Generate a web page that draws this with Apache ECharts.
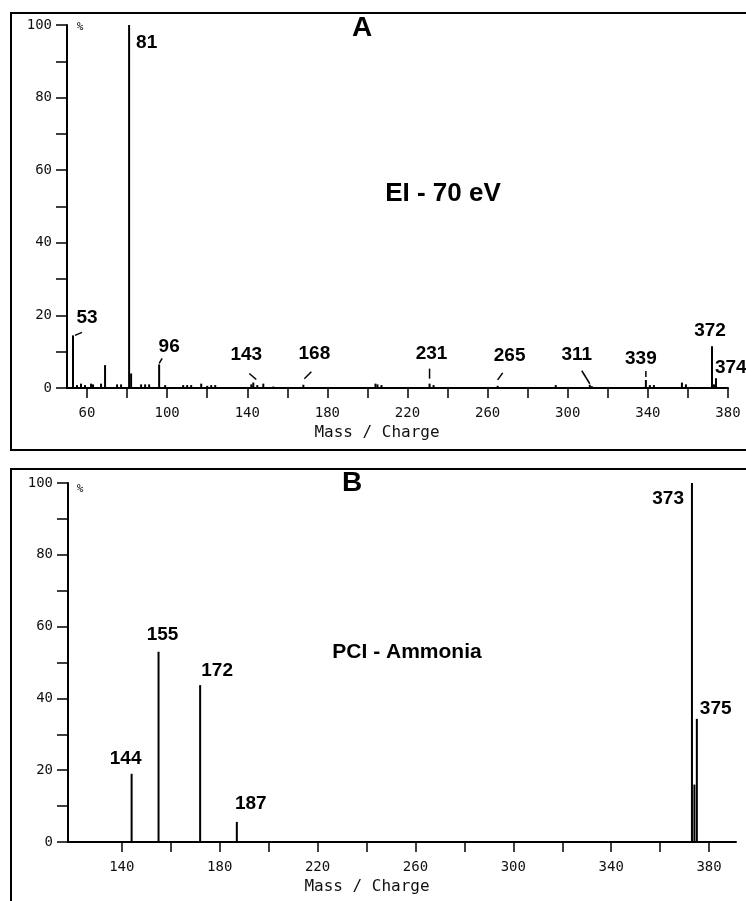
<!DOCTYPE html>
<html>
<head>
<meta charset="utf-8">
<script src="https://cdn.jsdelivr.net/npm/echarts@6/dist/echarts.min.js"></script>
<style>
  html, body { margin: 0; padding: 0; background: #fff; }
  #chart { width: 746px; height: 901px; }
</style>
</head>
<body>
<div id="chart"></div>
<script>
// EI - 70 eV spectrum (m/z, relative intensity %)
const eiMz = [53, 55, 57, 59, 62, 63, 67, 69, 75, 77, 81, 82, 87, 89, 91, 96, 99,
  108, 110, 112, 117, 120, 122, 124, 142, 143, 145, 148, 153, 168,
  204, 205, 207, 231, 233, 265, 294, 311, 312, 339, 341, 343, 357, 359, 372, 373, 374];
const eiInt = [14.5, 0.8, 1.2, 0.8, 1.2, 1.0, 1.2, 6.3, 1.0, 1.0, 100, 4.0, 1.0, 1.0, 1.0, 6.5, 0.8,
  0.8, 0.8, 0.8, 1.2, 0.6, 0.8, 0.8, 1.0, 1.5, 0.8, 1.2, 0.4, 0.9,
  1.2, 1.0, 0.8, 1.2, 0.8, 0.6, 0.8, 0.9, 0.5, 2.2, 0.8, 0.8, 1.5, 1.0, 11.5, 1.0, 2.7];
const eiLabels = [53, 81, 96, 143, 168, 231, 265, 311, 339, 372, 374];

// PCI - Ammonia spectrum
const pciMz = [144, 155, 172, 187, 373, 374, 375];
const pciInt = [19, 53, 43.7, 5.6, 100, 16, 34.3];
const pciLabels = [144, 155, 172, 187, 373, 375];

// axis ticks / labels
const yTicks = [0, 10, 20, 30, 40, 50, 60, 70, 80, 90, 100];
const yLabels = [0, 20, 40, 60, 80, 100];
const eiXTicks = [60, 80, 100, 120, 140, 160, 180, 200, 220, 240, 260, 280, 300, 320, 340, 360, 380];
const eiXLabels = [60, 100, 140, 180, 220, 260, 300, 340, 380];
const pciXTicks = [140, 160, 180, 200, 220, 240, 260, 280, 300, 320, 340, 360, 380];
const pciXLabels = [140, 180, 220, 260, 300, 340, 380];

// label placement relative to the peak top (px)
const eiLabelStyle = {
  53: { dx: 14, dy: -8, lead: [2, 0, 9, -3] },
  81: { dx: 7, dy: 8, align: 'left', va: 'top' },
  96: { dx: 10, dy: -8, lead: [0, -1, 3, -6] },
  143: { dx: -7, dy: -18, lead: [3, -3, -4, -9] },
  168: { dx: 11, dy: -21, lead: [1, -6, 8, -13] },
  231: { dx: 2, dy: -20, lead: [0, -5, 0, -15] },
  265: { dx: 12, dy: -21, lead: [0, -6, 5, -13] },
  311: { dx: -13, dy: -20, lead: [-8, -14, 0, -1] },
  339: { dx: -5, dy: -12, lead: [0, -3, 0, -9] },
  372: { dx: -2, dy: -6 },
  374: { dx: -1, dy: -1, align: 'left' }
};
const pciLabelStyle = {
  144: { dx: -6, dy: -6 },
  155: { dx: 4, dy: -7 },
  172: { dx: 17, dy: -5 },
  187: { dx: 14, dy: -9 },
  373: { dx: -8, dy: 6, align: 'right', va: 'top' },
  375: { dx: 3, dy: -1, align: 'left' }
};

const monoFont = '"DejaVu Sans Mono", monospace';
const peakFont = 'bold 19px "Liberation Sans", Arial, sans-serif';

function annotate(styles) {
  return function (params, api) {
    const mz = api.value(0);
    const p = api.coord([mz, api.value(1)]);
    const s = styles[mz];
    const children = [{
      type: 'text',
      style: {
        text: String(mz), x: p[0] + s.dx, y: p[1] + s.dy,
        align: s.align || 'center', verticalAlign: s.va || 'bottom',
        font: peakFont, fill: '#000'
      }
    }];
    if (s.lead) {
      children.push({
        type: 'line',
        shape: { x1: p[0] + s.lead[0], y1: p[1] + s.lead[1], x2: p[0] + s.lead[2], y2: p[1] + s.lead[3] },
        style: { stroke: '#000', lineWidth: 1.5 }
      });
    }
    return { type: 'group', children: children };
  };
}

function xAxisOf(idx, min, max, ticks, labels) {
  return {
    type: 'value', gridIndex: idx, min: min, max: max,
    axisLine: { show: true, onZero: false, lineStyle: { color: '#000', width: 2 } },
    axisTick: { show: true, customValues: ticks, length: 10, lineStyle: { color: '#000', width: 1.5 } },
    axisLabel: { customValues: labels, margin: 18, color: '#111', fontFamily: monoFont, fontSize: 14 },
    splitLine: { show: false }
  };
}

function yAxisOf(idx) {
  return {
    type: 'value', gridIndex: idx, min: 0, max: 100,
    axisLine: { show: true, lineStyle: { color: '#000', width: 2 } },
    axisTick: { show: true, customValues: yTicks, length: 11, lineStyle: { color: '#000', width: 1.5 } },
    axisLabel: { customValues: yLabels, margin: 15, color: '#111', fontFamily: monoFont, fontSize: 14 },
    splitLine: { show: false }
  };
}

const chart = echarts.init(document.getElementById('chart'));
const option = {
  backgroundColor: '#fff',
  animation: false,
  grid: [
    { left: 67, top: 25, width: 661, height: 363, containLabel: false },
    { left: 68, top: 483, width: 668, height: 359, containLabel: false }
  ],
  xAxis: [
    xAxisOf(0, 50, 380, eiXTicks, eiXLabels),
    xAxisOf(1, 118, 391, pciXTicks, pciXLabels)
  ],
  yAxis: [yAxisOf(0), yAxisOf(1)],
  series: [
    {
      type: 'bar', xAxisIndex: 0, yAxisIndex: 0, barWidth: 2,
      itemStyle: { color: '#000' },
      data: eiMz.map((m, i) => [m, eiInt[i]])
    },
    {
      type: 'bar', xAxisIndex: 1, yAxisIndex: 1, barWidth: 2,
      itemStyle: { color: '#000' },
      data: pciMz.map((m, i) => [m, pciInt[i]])
    },
    {
      type: 'custom', xAxisIndex: 0, yAxisIndex: 0, clip: false,
      renderItem: annotate(eiLabelStyle),
      data: eiLabels.map(m => [m, eiInt[eiMz.indexOf(m)]])
    },
    {
      type: 'custom', xAxisIndex: 1, yAxisIndex: 1, clip: false,
      renderItem: annotate(pciLabelStyle),
      data: pciLabels.map(m => [m, pciInt[pciMz.indexOf(m)]])
    }
  ],
  graphic: [
    // panel frames
    { type: 'rect', shape: { x: 11, y: 13, width: 760, height: 437 }, style: { fill: 'none', stroke: '#000', lineWidth: 2 } },
    { type: 'rect', shape: { x: 11, y: 469, width: 760, height: 460 }, style: { fill: 'none', stroke: '#000', lineWidth: 2 } },
    // panel A texts
    { type: 'text', x: 362, y: 28, style: { text: 'A', font: 'bold 28px "Liberation Sans", Arial, sans-serif', fill: '#000', align: 'center', verticalAlign: 'middle' } },
    { type: 'text', x: 443, y: 194, style: { text: 'EI - 70 eV', font: 'bold 26px "Liberation Sans", Arial, sans-serif', fill: '#000', align: 'center', verticalAlign: 'middle' } },
    { type: 'text', x: 80, y: 27, style: { text: '%', font: '11px ' + monoFont, fill: '#000', align: 'center', verticalAlign: 'middle' } },
    { type: 'text', x: 377, y: 433, style: { text: 'Mass / Charge', font: '16px ' + monoFont, fill: '#111', align: 'center', verticalAlign: 'middle' } },
    // panel B texts
    { type: 'text', x: 352, y: 483, style: { text: 'B', font: 'bold 28px "Liberation Sans", Arial, sans-serif', fill: '#000', align: 'center', verticalAlign: 'middle' } },
    { type: 'text', x: 407, y: 652, style: { text: 'PCI - Ammonia', font: 'bold 21px "Liberation Sans", Arial, sans-serif', fill: '#000', align: 'center', verticalAlign: 'middle' } },
    { type: 'text', x: 80, y: 489, style: { text: '%', font: '11px ' + monoFont, fill: '#000', align: 'center', verticalAlign: 'middle' } },
    { type: 'text', x: 367, y: 887, style: { text: 'Mass / Charge', font: '16px ' + monoFont, fill: '#111', align: 'center', verticalAlign: 'middle' } }
  ]
};
chart.setOption(option);
</script>
</body>
</html>
